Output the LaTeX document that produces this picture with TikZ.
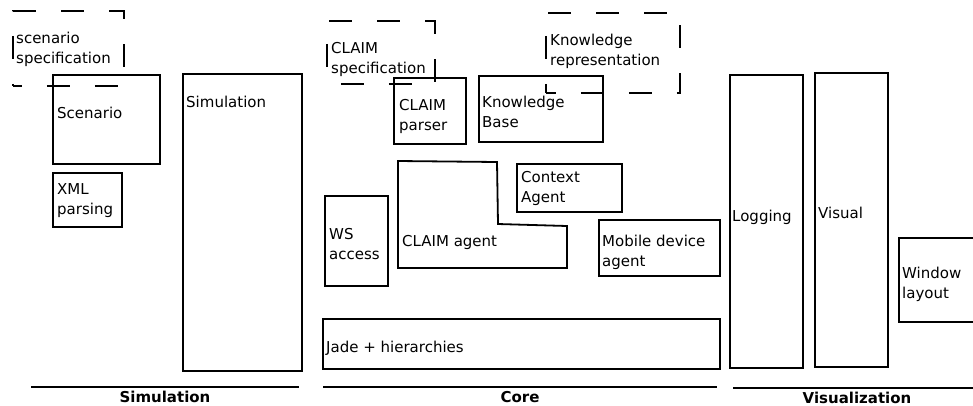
\documentclass[tikz,border=0pt]{standalone}
\usepackage{fontspec}
\setmainfont{DejaVu Sans}

\begin{document}
\begin{tikzpicture}[x=1pt, y=-1pt, box/.style={draw, line width=1.8pt, inner sep=0pt, anchor=north west}, spec/.style={box, dash pattern=on 23pt off 25pt, dash phase=14pt}, lbl/.style={anchor=base west, align=left, inner sep=0pt, font=\fontsize{15}{19.5}\selectfont}, sep/.style={line width=1.8pt}, group/.style={anchor=base, yshift=-15pt, font=\fontsize{15}{18}\selectfont\bfseries}]
   \useasboundingbox (0,0) rectangle (973,405);
   \node[spec, minimum width=111pt, minimum height=75pt] (scen_spec)  at (12,10)  {};
   \node[box, minimum width=107pt, minimum height=89pt]  (scen)       at (52,74)  {};
   \node[box, minimum width=69pt, minimum height=54pt]   (xml)        at (52,172) {};
   \node[box, minimum width=119pt, minimum height=297pt] (sim)        at (182,73) {};
   \node[spec, minimum width=108pt, minimum height=63pt, dash phase=34pt] (claim_spec) at (326,20) {};
   \node[box, minimum width=72pt, minimum height=66pt]   (parser)     at (393,77) {};
   \node[box, minimum width=124pt, minimum height=66pt]  (kb)         at (478,75) {};
   \node[spec, minimum width=134pt, minimum height=80pt, dash phase=13pt] (kr) at (545,12) {};
   \node[box, minimum width=105pt, minimum height=48pt]  (ctx)        at (516,163) {};
   \node[box, minimum width=63pt, minimum height=90pt]   (ws)         at (324,195) {};
   \node[box, minimum width=121pt, minimum height=56pt]  (mobile)     at (598,219) {};
   \node[box, minimum width=397pt, minimum height=50pt]  (jade)       at (322,318) {};
   \node[box, minimum width=73pt, minimum height=293pt]  (logging)    at (729,74) {};
   \node[box, minimum width=73pt, minimum height=294pt]  (visual)     at (814,72) {};
   \node[box, minimum width=102pt, minimum height=84pt]  (window)     at (898,237) {};
   \coordinate (a_1) at (398,161);
   \coordinate (a_2) at (497,162);
   \coordinate (a_3) at (498,224);
   \coordinate (a_4) at (567,226);
   \coordinate (a_5) at (567,268);
   \coordinate (a_6) at (398,268);
   \draw[sep] (a_1) -- (a_2) -- (a_3) -- (a_4) -- (a_5) -- (a_6) -- cycle;
   \node[lbl] (scen_spec_l)  at (16,63)   {scenario\\specification};
   \node[lbl] (scen_l)       at (57,118)  {Scenario};
   \node[lbl] (xml_l)        at (57,214)  {XML\\parsing};
   \node[lbl] (sim_l)        at (186,107) {Simulation};
   \node[lbl] (claim_spec_l) at (331,73)  {CLAIM\\specification};
   \node[lbl] (parser_l)     at (399,130) {CLAIM\\parser};
   \node[lbl] (kb_l)         at (482,127) {Knowledge\\Base};
   \node[lbl] (kr_l)         at (550,65)  {Knowledge\\representation};
   \node[lbl] (ctx_l)        at (521,202) {Context\\Agent};
   \node[lbl] (ws_l)         at (329,259) {WS\\access};
   \node[lbl] (agent_l)      at (402,246) {CLAIM agent};
   \node[lbl] (mobile_l)     at (602,266) {Mobile device\\agent};
   \node[lbl] (jade_l)       at (326,352) {Jade + hierarchies};
   \node[lbl] (logging_l)    at (732,221) {Logging};
   \node[lbl] (visual_l)     at (818,218) {Visual};
   \node[lbl] (window_l)     at (902,298) {Window\\layout};
   \coordinate (sim_a) at (31,387);
   \coordinate (sim_b) at (299,387);
   \coordinate (core_a) at (323,387);
   \coordinate (core_b) at (717,387);
   \coordinate (vis_a) at (733,388);
   \coordinate (vis_b) at (981,388);
   \draw[sep] (sim_a) -- node[group] (sim_g) {Simulation} (sim_b);
   \draw[sep] (core_a) -- node[group] (core_g) {Core} (core_b);
   \draw[sep] (vis_a) -- node[group] (vis_g) {Visualization} (vis_b);
\end{tikzpicture}
\end{document}
